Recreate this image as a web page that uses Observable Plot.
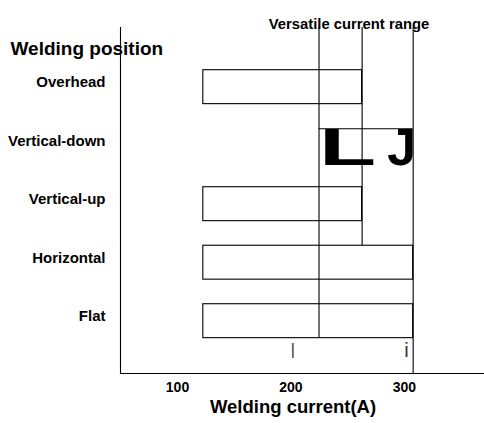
<!DOCTYPE html>
<html><head><meta charset="utf-8">
<script src="https://cdn.jsdelivr.net/npm/d3@7"></script>
<script src="https://cdn.jsdelivr.net/npm/@observablehq/plot@0.6"></script>
<style>body{margin:0;background:#fff}</style>
</head><body><div id="chart"></div>
<script>
// Data
const positions = ["Overhead", "Vertical-down", "Vertical-up", "Horizontal", "Flat"];
const currentMin = [121, 223, 121, 121, 121];
const currentMax = [261, 306, 261, 306, 306];
const rangeLines = [223, 261, 306];
const rangeLineEndRow = ["Flat", "Horizontal", null];
const rangeLineEndSide = ["bottom", "top", null];
const xTicks = [100, 200, 300];
const markValues = [200, 300];
const markGlyphs = ["|", "i"];

const H = 0.29; // half bar thickness, in row units
const yDomain = [-1.02, 4.894];
const bars = positions.map((p, i) => ({p, i, lo: currentMin[i], hi: currentMax[i]}));
const lines = rangeLines.map((x, k) => {
  const r = rangeLineEndRow[k];
  const i = r == null ? null : positions.indexOf(r);
  return {x, y1: yDomain[0], y2: i == null ? yDomain[1] : i + (rangeLineEndSide[k] === "bottom" ? H : -H)};
});
const marks = markValues.map((x, k) => ({x, s: markGlyphs[k]}));
const boxBars = bars.filter(d => d.p !== "Vertical-down");
const openBars = bars.filter(d => d.p === "Vertical-down");

const chart = Plot.plot({
  width: 484, height: 423,
  marginLeft: 120, marginRight: 1, marginTop: 27, marginBottom: 50,
  style: {fontFamily: "'Liberation Sans', Arial, sans-serif", color: "black", background: "white"},
  x: {domain: [48, 368]},
  y: {domain: yDomain, range: [27, 373]},
  marks: [
    Plot.rect(boxBars, {x1: "lo", x2: "hi", y1: d => d.i - H, y2: d => d.i + H, fill: "none", stroke: "black", strokeWidth: 1.1}),
    Plot.ruleY(openBars, {y: d => d.i - H, x1: "lo", x2: "hi", stroke: "black", strokeWidth: 1.1}),
    Plot.text(openBars, {x: "lo", y: "i", text: () => "L", textAnchor: "start", fontSize: 52, fontWeight: "bold", dy: 3}),
    Plot.text(openBars, {x: "hi", y: "i", text: () => "J", textAnchor: "end", fontSize: 52, fontWeight: "bold", dx: 3, dy: 3}),
    Plot.ruleX(lines, {x: "x", y1: "y1", y2: "y2", stroke: "black", strokeWidth: 1.1}),
    Plot.frame({anchor: "left", strokeWidth: 1.1}),
    Plot.frame({anchor: "bottom", strokeWidth: 1.1}),
    Plot.text(marks.slice(0, 1), {x: "x", text: "s", frameAnchor: "bottom", fontSize: 16, fill: "#333", dy: -18.5}),
    Plot.text(marks.slice(1), {x: "x", text: "s", frameAnchor: "bottom", fontSize: 20, fill: "#333", dy: -16.4}),
    Plot.axisX({ticks: xTicks, tickSize: 0, tickPadding: 9, fontSize: 14, fontWeight: "bold", dx: -2, label: null}),
    Plot.axisY({ticks: [0, 1, 2, 3, 4], tickFormat: i => positions[i], tickSize: 0, tickPadding: 15, fontSize: 15, fontWeight: "bold", dy: -4.8, label: null}),
    Plot.text(["Welding position"], {frameAnchor: "top-left", textAnchor: "start", dx: -110, dy: 13.6, fontSize: 19, fontWeight: "bold"}),
    Plot.text(["Versatile current range"], {frameAnchor: "top", dx: 47, dy: -8.8, fontSize: 14.8, fontWeight: "bold"}),
    Plot.text(["Welding current(A)"], {frameAnchor: "bottom", dx: -9, dy: 39.6, fontSize: 18.5, fontWeight: "bold"})
  ]
});
document.getElementById("chart").appendChild(chart);
d3.select(chart).selectAll("text").filter(function () { return this.textContent === "L"; }).each(function () {
  const x = +this.getAttribute("x") || 0;
  const t = this.getAttribute("transform") || "";
  this.setAttribute("transform", `${t} translate(${x},0) scale(1.8,1) translate(${-x},0)`);
});
</script>
</body></html>
